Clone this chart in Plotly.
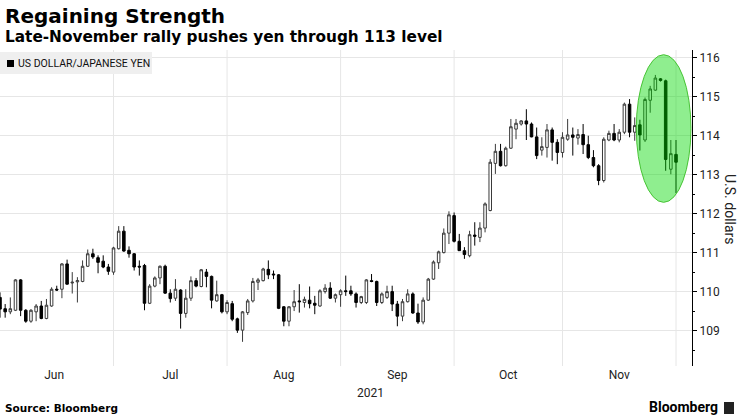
import pandas as pd
import plotly.graph_objects as go

# ---- data (USD/JPY daily candles, 31 May 2021 - 30 Nov 2021, weekdays) ----
dates = pd.bdate_range("2021-05-31", "2021-11-30")

open_ = [109.85, 109.56, 109.48, 109.52, 110.30, 109.52, 109.24, 109.48, 109.63, 109.31,
         109.63, 110.06, 110.06, 110.71, 110.22, 110.25, 110.26, 110.65, 110.97, 110.87,
         110.78, 110.63, 110.50, 111.10, 111.55, 111.06, 110.97, 110.65, 110.67, 109.70,
         110.14, 110.35, 110.65, 109.96, 109.83, 110.04, 109.44, 109.83, 110.28, 110.13,
         110.50, 110.39, 109.76, 109.92, 109.48, 109.69, 109.30, 109.01, 109.46, 109.76,
         110.24, 110.28, 110.57, 110.45, 110.43, 109.61, 109.24, 109.61, 109.76, 109.72,
         109.78, 109.70, 109.63, 110.00, 110.09, 109.83, 109.92, 110.02, 110.02, 109.94,
         109.72, 109.72, 110.28, 110.26, 109.72, 109.85, 110.00, 109.68, 109.37, 109.74,
         109.94, 109.45, 109.22, 109.78, 110.32, 110.74, 111.00, 111.50, 111.95, 111.29,
         111.05, 110.92, 111.45, 111.39, 111.63, 112.08, 113.29, 113.60, 113.23, 113.68,
         114.17, 114.30, 114.38, 114.30, 113.97, 113.63, 113.70, 114.15, 113.83, 113.57,
         113.91, 114.02, 113.94, 114.03, 113.77, 113.44, 113.23, 112.85, 113.89, 114.06,
         113.89, 114.09, 114.81, 114.09, 114.28, 113.89, 114.91, 115.17, 115.46, 115.41,
         113.14, 113.52]
high = [109.98, 109.68, 109.85, 110.32, 110.32, 109.55, 109.55, 109.68, 109.76, 109.81,
        110.11, 110.15, 110.73, 110.82, 110.50, 110.37, 110.80, 111.08, 111.10, 110.93,
        110.93, 110.71, 111.15, 111.68, 111.68, 111.16, 110.99, 110.80, 110.71, 110.19,
        110.39, 110.67, 110.69, 110.06, 110.32, 110.06, 110.06, 110.39, 110.35, 110.58,
        110.58, 110.41, 110.28, 109.94, 109.78, 109.76, 109.33, 109.50, 109.81, 110.35,
        110.35, 110.61, 110.80, 110.54, 110.45, 109.63, 109.63, 110.04, 110.19, 109.87,
        110.13, 109.89, 110.06, 110.19, 110.24, 109.95, 110.06, 110.41, 110.15, 109.98,
        109.89, 110.32, 110.45, 110.28, 109.98, 110.15, 110.15, 109.76, 109.81, 110.06,
        109.98, 109.69, 109.85, 110.35, 110.80, 111.05, 111.62, 112.06, 112.03, 111.48,
        111.14, 111.56, 111.78, 111.78, 112.29, 113.40, 113.79, 113.79, 113.72, 114.43,
        114.43, 114.40, 114.68, 114.34, 114.21, 113.96, 114.30, 114.21, 113.91, 114.09,
        114.43, 114.21, 114.17, 114.30, 114.00, 113.63, 113.27, 113.96, 114.13, 114.30,
        114.17, 114.85, 114.94, 114.47, 114.41, 114.98, 115.28, 115.56, 115.48, 115.44,
        113.89, 113.89]
low = [109.33, 109.33, 109.42, 109.50, 109.37, 109.20, 109.20, 109.24, 109.29, 109.29,
       109.61, 110.02, 109.83, 110.18, 109.95, 109.72, 110.24, 110.63, 110.84, 110.47,
       110.60, 110.43, 110.43, 111.08, 111.02, 110.87, 110.54, 110.41, 109.52, 109.68,
       110.11, 110.19, 109.94, 109.72, 109.76, 109.05, 109.33, 109.76, 110.11, 110.11,
       110.11, 109.57, 109.74, 109.44, 109.42, 109.24, 108.94, 108.71, 109.40, 109.72,
       110.04, 110.26, 110.32, 110.32, 109.55, 109.11, 109.11, 109.50, 109.46, 109.59,
       109.57, 109.42, 109.61, 109.95, 109.81, 109.72, 109.61, 109.89, 109.89, 109.59,
       109.68, 109.68, 110.24, 109.63, 109.68, 109.81, 109.50, 109.11, 109.24, 109.72,
       109.43, 109.17, 109.16, 109.76, 110.30, 110.58, 110.98, 111.22, 111.26, 111.05,
       110.84, 110.88, 111.18, 111.27, 111.52, 112.06, 113.02, 113.21, 113.21, 113.66,
       113.91, 114.26, 113.89, 113.96, 113.40, 113.49, 113.44, 113.36, 113.27, 113.44,
       113.87, 113.49, 113.77, 113.53, 113.40, 113.19, 112.73, 112.80, 113.86, 113.86,
       113.83, 114.04, 113.96, 113.87, 113.62, 113.84, 114.59, 115.15, 115.39, 113.10,
       113.01, 112.53]
close = [109.55, 109.48, 109.56, 110.30, 109.52, 109.24, 109.52, 109.63, 109.31, 109.65,
         110.06, 110.04, 110.71, 110.19, 110.24, 110.28, 110.65, 110.97, 110.89, 110.75,
         110.63, 110.52, 111.12, 111.55, 111.04, 110.97, 110.63, 110.63, 109.70, 110.14,
         110.35, 110.65, 109.96, 109.82, 110.06, 109.44, 109.83, 110.28, 110.14, 110.56,
         110.39, 109.78, 109.92, 109.48, 109.72, 109.29, 109.01, 109.48, 109.76, 110.26,
         110.30, 110.58, 110.43, 110.43, 109.57, 109.24, 109.61, 109.74, 109.74, 109.80,
         109.69, 109.65, 110.02, 110.09, 109.83, 109.92, 110.02, 110.00, 109.94, 109.72,
         109.87, 110.30, 110.26, 109.72, 109.94, 110.00, 109.68, 109.37, 109.74, 109.94,
         109.45, 109.22, 109.78, 110.32, 110.76, 111.02, 111.50, 111.97, 111.29, 111.05,
         110.95, 111.46, 111.42, 111.63, 112.25, 113.32, 113.60, 113.23, 113.68, 114.23,
         114.32, 114.38, 114.30, 113.97, 113.49, 113.72, 114.15, 113.83, 113.57, 113.96,
         114.02, 113.96, 114.03, 113.77, 113.44, 113.23, 112.85, 113.91, 114.06, 113.89,
         114.09, 114.81, 114.09, 114.26, 114.02, 114.93, 115.20, 115.48, 115.42, 113.39,
         113.54, 113.32]

y_ticks = [109, 110, 111, 112, 113, 114, 115, 116]
month_labels = ["Jun", "Jul", "Aug", "Sep", "Oct", "Nov"]

# ---- positions on a trading-day axis ----
x = list(range(len(dates)))
months = dates.to_period("M")
month_last = {}
for i, m in enumerate(months):
    month_last[m] = i
periods = sorted(month_last.keys())[1:]  # Jun..Nov
grid_x = [month_last[p] for p in periods]
prev_last = [-1] + grid_x[:-1]
label_x = [(a + b) / 2 for a, b in zip(prev_last, grid_x)]

W, H = 740, 416
L, R, T, B = 0, 48, 50, 50
pw, ph = W - L - R, H - T - B


def px_x(px):
    return (px - L) / pw


def px_y(py):
    return (H - B - py) / ph


fig = go.Figure()
fig.add_trace(go.Candlestick(
    x=x, open=open_, high=high, low=low, close=close,
    increasing=dict(fillcolor="#ffffff", line=dict(color="#3a3a3a", width=1)),
    decreasing=dict(fillcolor="#000000", line=dict(color="#000000", width=1)),
    whiskerwidth=0, hoverinfo="skip", showlegend=False,
))

shapes = []
for gx in grid_x:
    shapes.append(dict(type="line", xref="x", yref="paper", x0=gx, x1=gx, y0=0, y1=1,
                       line=dict(color="#e6e6e6", width=1), layer="below"))
# legend box
shapes.append(dict(type="rect", xref="paper", yref="paper",
                   x0=px_x(0), x1=px_x(152), y0=px_y(74), y1=px_y(52),
                   fillcolor="#efefef", line=dict(width=0), layer="above"))
# legend swatch
shapes.append(dict(type="rect", xref="paper", yref="paper",
                   x0=px_x(7), x1=px_x(14), y0=px_y(67), y1=px_y(60),
                   fillcolor="#000000", line=dict(width=0), layer="above"))
# highlight ellipse
shapes.append(dict(type="circle", xref="x", yref="y",
                   x0=123.3, x1=133.9, y0=112.29, y1=116.08,
                   fillcolor="rgba(0,216,0,0.44)",
                   line=dict(color="rgba(60,190,40,0.9)", width=1), layer="above"))
# bloomberg icon
shapes.append(dict(type="rect", xref="paper", yref="paper",
                   x0=px_x(724), x1=px_x(734), y0=px_y(414), y1=px_y(402),
                   fillcolor="#222222", line=dict(width=0), layer="above"))

annotations = [
    dict(text="<b>Regaining Strength</b>", x=px_x(3), y=px_y(16), xref="paper", yref="paper",
         xanchor="left", yanchor="middle", showarrow=False,
         font=dict(family="DejaVu Sans", size=20, color="#000000")),
    dict(text="<b>Late-November rally pushes yen through 113 level</b>", x=px_x(3), y=px_y(37),
         xref="paper", yref="paper", xanchor="left", yanchor="middle", showarrow=False,
         font=dict(family="DejaVu Sans", size=15.3, color="#000000")),
    dict(text="US DOLLAR/JAPANESE YEN", x=px_x(16), y=px_y(63.5), xref="paper", yref="paper",
         xanchor="left", yanchor="middle", showarrow=False,
         font=dict(family="Roboto", size=10.5, color="#111111")),
    dict(text="U.S. dollars", x=px_x(730), y=px_y(209), xref="paper", yref="paper",
         xanchor="center", yanchor="middle", showarrow=False, textangle=90,
         font=dict(family="Roboto", size=14, color="#222222")),
    dict(text="2021", x=px_x(370), y=px_y(393), xref="paper", yref="paper",
         xanchor="center", yanchor="middle", showarrow=False,
         font=dict(family="Roboto", size=12, color="#222222")),
    dict(text="<b>Source: Bloomberg</b>", x=px_x(3), y=px_y(408), xref="paper", yref="paper",
         xanchor="left", yanchor="middle", showarrow=False,
         font=dict(family="DejaVu Sans", size=10.5, color="#000000")),
    dict(text="<b>Bloomberg</b>", x=px_x(720), y=px_y(407), xref="paper", yref="paper",
         xanchor="right", yanchor="middle", showarrow=False,
         font=dict(family="Roboto", size=14, color="#000000")),
]

fig.update_layout(
    width=W, height=H,
    margin=dict(l=L, r=R, t=T, b=B, pad=0),
    paper_bgcolor="#ffffff", plot_bgcolor="#ffffff",
    shapes=shapes, annotations=annotations,
    showlegend=False,
    xaxis=dict(range=[0, 134.1], rangeslider=dict(visible=False),
               tickmode="array", tickvals=label_x, ticktext=month_labels,
               showgrid=False, zeroline=False, showline=False, ticks="",
               tickfont=dict(family="Roboto", size=12, color="#222222"),
               fixedrange=True),
    yaxis=dict(side="right", range=[108.09, 116.2], tickmode="array", tickvals=y_ticks,
               showgrid=True, gridcolor="#e6e6e6", gridwidth=1, zeroline=False,
               showline=True, linecolor="#000000", linewidth=1,
               ticks="outside", ticklen=4, tickcolor="#000000",
               minor=dict(dtick=0.5, tick0=0, ticks="outside", ticklen=2,
                          tickcolor="#000000", showgrid=False),
               tickfont=dict(family="Roboto", size=12, color="#222222"),
               fixedrange=True),
)

fig.write_html("out.html")
